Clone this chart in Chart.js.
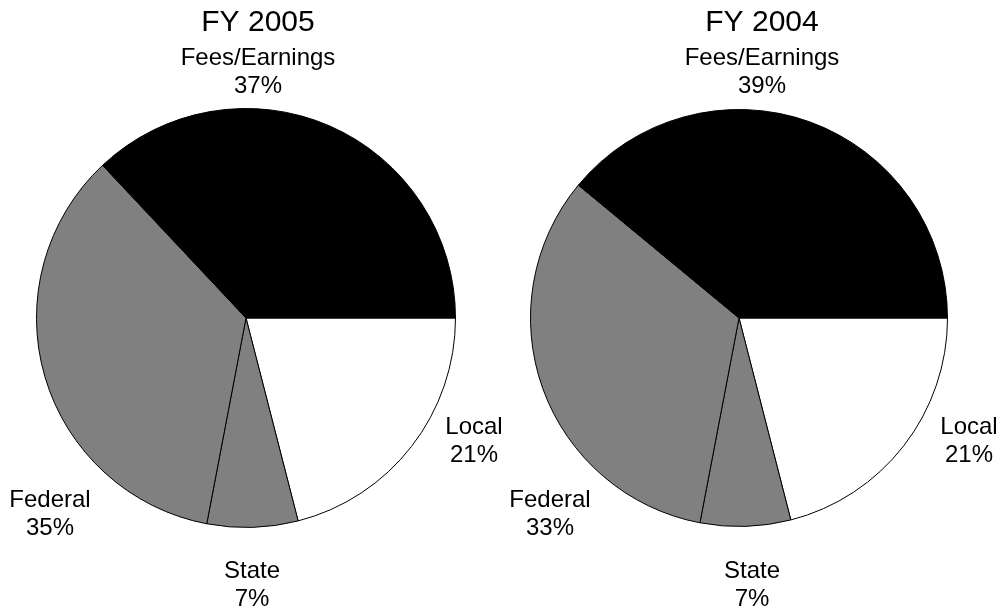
<!DOCTYPE html>
<html>
<head>
<meta charset="utf-8">
<script src="https://cdn.jsdelivr.net/npm/chart.js@4/dist/chart.umd.min.js"></script>
<style>
  html, body { margin: 0; padding: 0; background: #fff; }
  #wrap { position: relative; width: 1003px; height: 613px; }
  .c { position: absolute; top: 0; }
</style>
</head>
<body>
<div id="wrap">
  <div class="c" style="left:0;width:503px;height:613px"><canvas id="c1"></canvas></div>
  <div class="c" style="left:500px;width:503px;height:613px"><canvas id="c2"></canvas></div>
</div>
<script>
// Categories in drawing order (clockwise from 3 o'clock)
const categories = ['Local', 'State', 'Federal', 'Fees/Earnings'];
const sliceColors = ['#ffffff', '#808080', '#808080', '#000000'];
const titles = ['FY 2005', 'FY 2004'];
const fy2005 = [21, 7, 35, 37];
const fy2004 = [21, 7, 33, 39];

const FONT = '"Liberation Sans", Arial, Helvetica, sans-serif';

// label placement relative to pie centre (style/layout, not data)
const labelLayouts = [
  { title: { dx: 12, y: 23 }, labels: { 'Fees/Earnings': [12, -246], 'Local': [228, 123], 'State': [6, 267], 'Federal': [-196, 196] } },
  { title: { dx: 23, y: 23 }, labels: { 'Fees/Earnings': [23, -246], 'Local': [230, 123], 'State': [13, 267], 'Federal': [-189, 196] } }
];

const labelPlugin = {
  id: 'pieLabels',
  afterDraw(chart, args, opts) {
    const ctx = chart.ctx;
    const meta = chart.getDatasetMeta(0);
    const arc = meta.data[0];
    const cx = arc.x, cy = arc.y;
    const layout = opts.layout;
    const values = chart.data.datasets[0].data;
    ctx.save();
    ctx.fillStyle = '#000';
    ctx.textAlign = 'center';
    ctx.textBaseline = 'middle';
    ctx.font = '30px ' + FONT;
    ctx.fillText(opts.title, cx + layout.title.dx, layout.title.y);
    ctx.font = '24px ' + FONT;
    chart.data.labels.forEach((lab, i) => {
      const off = layout.labels[lab];
      const x = cx + off[0], y = cy + off[1];
      ctx.fillText(lab, x, y - 14);
      ctx.fillText(values[i] + '%', x, y + 14);
    });
    ctx.restore();
  }
};

function makePie(id, title, values, layout, padding) {
  return new Chart(document.getElementById(id), {
    type: 'pie',
    data: {
      labels: categories,
      datasets: [{
        data: values,
        backgroundColor: sliceColors,
        borderColor: '#000',
        borderWidth: 1,
        hoverOffset: 0
      }]
    },
    options: {
      responsive: true,
      maintainAspectRatio: false,
      animation: false,
      rotation: 90,
      layout: { padding: padding },
      plugins: {
        legend: { display: false },
        tooltip: { enabled: false },
        title: { display: false },
        pieLabels: { title: title, layout: layout }
      }
    },
    plugins: [labelPlugin]
  });
}

makePie('c1', titles[0], fy2005, labelLayouts[0], { left: 36, right: 47, top: 108, bottom: 85 });
makePie('c2', titles[1], fy2004, labelLayouts[1], { left: 30, right: 55, top: 109, bottom: 86 });
</script>
</body>
</html>
